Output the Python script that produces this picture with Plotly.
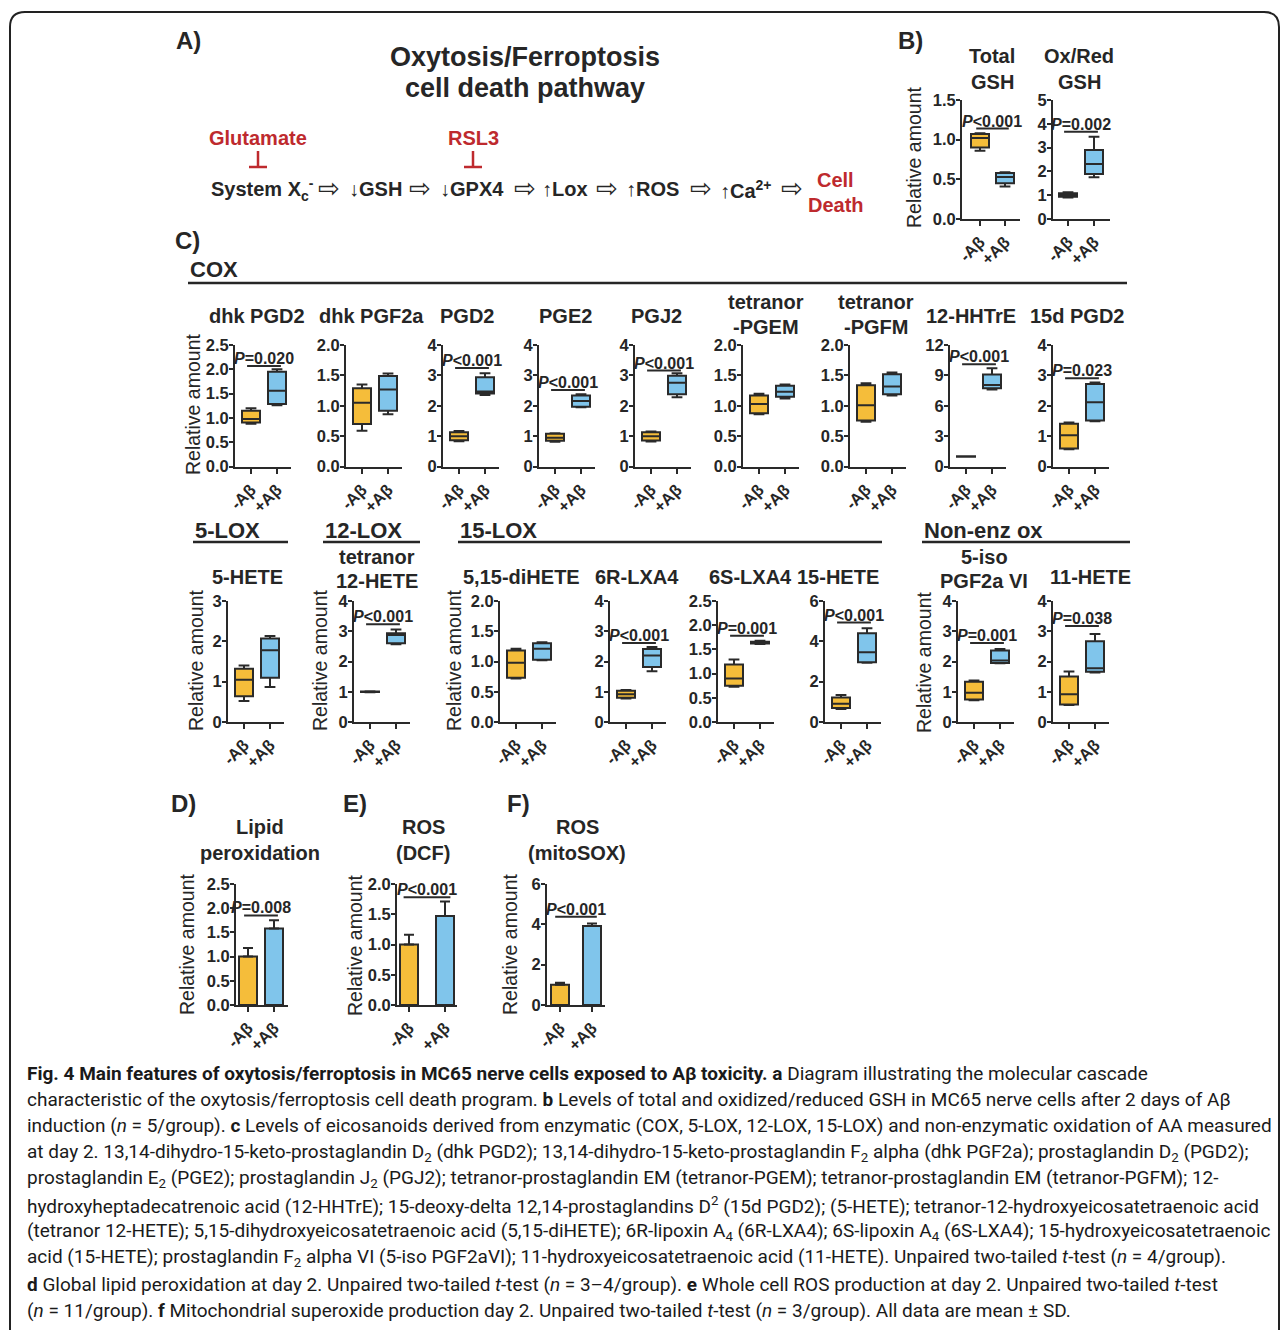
import plotly.graph_objects as go

# ---------------- data ----------------
groups = ["-Aβ", "+Aβ"]

# B) glutathione (box stats: min, q1, median, q3, max)
gsh_titles = [["Total", "GSH"], ["Ox/Red", "GSH"]]
gsh_ymax = [1.5, 5]
gsh_dtick = [0.5, 1]
gsh_minus = [[0.86, 0.90, 1.02, 1.07, 1.08], [0.90, 0.93, 1.00, 1.08, 1.12]]
gsh_plus = [[0.41, 0.45, 0.53, 0.58, 0.59], [1.75, 1.89, 2.31, 2.90, 3.46]]
gsh_p = ["<0.001", "=0.002"]
gsh_pline = [1.14, 3.67]

# C) COX products
cox_titles = [["dhk PGD2"], ["dhk PGF2a"], ["PGD2"], ["PGE2"], ["PGJ2"],
              ["tetranor", "-PGEM"], ["tetranor", "-PGFM"], ["12-HHTrE"], ["15d PGD2"]]
cox_ymax = [2.5, 2.0, 4, 4, 4, 2.0, 2.0, 12, 4]
cox_dtick = [0.5, 0.5, 1, 1, 1, 0.5, 0.5, 3, 1]
cox_minus = [
    [0.88, 0.91, 0.98, 1.15, 1.20],
    [0.59, 0.70, 1.05, 1.29, 1.35],
    [0.84, 0.87, 1.00, 1.13, 1.17],
    [0.82, 0.85, 0.95, 1.08, 1.10],
    [0.83, 0.86, 1.00, 1.13, 1.16],
    [0.86, 0.88, 1.03, 1.17, 1.20],
    [0.74, 0.76, 1.01, 1.34, 1.37],
    [0.97, 0.98, 1.00, 1.02, 1.03],
    [0.57, 0.60, 1.03, 1.41, 1.45],
]
cox_plus = [
    [1.26, 1.29, 1.56, 1.95, 2.00],
    [0.86, 0.92, 1.27, 1.49, 1.53],
    [2.36, 2.41, 2.47, 2.94, 3.07],
    [1.95, 1.97, 2.16, 2.34, 2.38],
    [2.28, 2.38, 2.76, 2.99, 3.07],
    [1.12, 1.15, 1.23, 1.33, 1.35],
    [1.17, 1.19, 1.32, 1.52, 1.55],
    [7.60, 7.73, 8.06, 9.10, 9.70],
    [1.49, 1.52, 2.12, 2.72, 2.77],
]
cox_p = ["=0.020", None, "<0.001", "<0.001", "<0.001", None, None, "<0.001", "=0.023"]
cox_pline = [2.07, None, 3.24, 2.52, 3.16, None, None, 10.1, 2.91]

# C) LOX and non-enzymatic products
lox_titles = [["5-HETE"], ["tetranor", "12-HETE"], ["5,15-diHETE"], ["6R-LXA4"],
              ["6S-LXA4"], ["15-HETE"], ["5-iso", "PGF2a VI"], ["11-HETE"]]
lox_ymax = [3, 4, 2.0, 4, 2.5, 6, 4, 4]
lox_dtick = [1, 1, 0.5, 1, 0.5, 2, 1, 1]
lox_minus = [
    [0.52, 0.64, 1.05, 1.32, 1.40],
    [0.98, 0.99, 1.00, 1.01, 1.02],
    [0.72, 0.73, 0.98, 1.18, 1.21],
    [0.78, 0.80, 0.92, 1.03, 1.06],
    [0.73, 0.75, 0.90, 1.19, 1.29],
    [0.65, 0.69, 0.90, 1.22, 1.34],
    [0.72, 0.74, 0.97, 1.33, 1.37],
    [0.56, 0.58, 0.92, 1.50, 1.67],
]
lox_plus = [
    [0.87, 1.10, 1.78, 2.07, 2.13],
    [2.57, 2.60, 2.88, 2.93, 3.06],
    [1.02, 1.03, 1.21, 1.30, 1.32],
    [1.68, 1.82, 2.20, 2.41, 2.48],
    [1.61, 1.62, 1.64, 1.66, 1.68],
    [2.94, 2.96, 3.46, 4.40, 4.65],
    [1.94, 1.95, 2.03, 2.36, 2.41],
    [1.64, 1.66, 1.78, 2.67, 2.91],
]
lox_p = [None, "<0.001", None, "<0.001", "=0.001", "<0.001", "=0.001", "=0.038"]
lox_pline = [None, 3.23, None, 2.61, 1.78, 4.93, 2.61, 3.17]

# D-F) oxidative stress read-outs (mean, SD)
ox_titles = [["Lipid", "peroxidation"], ["ROS", "(DCF)"], ["ROS", "(mitoSOX)"]]
ox_ymax = [2.5, 2.0, 6]
ox_dtick = [0.5, 0.5, 2]
ox_mean_minus = [1.00, 1.00, 1.00]
ox_sd_minus = [0.18, 0.16, 0.10]
ox_mean_plus = [1.58, 1.47, 3.92]
ox_sd_plus = [0.17, 0.24, 0.12]
ox_p = ["=0.008", "<0.001", "<0.001"]
ox_pline = [1.85, 1.78, 4.38]

caption_lines = [
    "<b>Fig. 4 Main features of oxytosis/ferroptosis in MC65 nerve cells exposed to Aβ toxicity. a</b> Diagram illustrating the molecular cascade",
    "characteristic of the oxytosis/ferroptosis cell death program. <b>b</b> Levels of total and oxidized/reduced GSH in MC65 nerve cells after 2 days of Aβ",
    "induction (<i>n</i> = 5/group). <b>c</b> Levels of eicosanoids derived from enzymatic (COX, 5-LOX, 12-LOX, 15-LOX) and non-enzymatic oxidation of AA measured",
    "at day 2. 13,14-dihydro-15-keto-prostaglandin D<sub>2</sub> (dhk PGD2); 13,14-dihydro-15-keto-prostaglandin F<sub>2</sub> alpha (dhk PGF2a); prostaglandin D<sub>2</sub> (PGD2);",
    "prostaglandin E<sub>2</sub> (PGE2); prostaglandin J<sub>2</sub> (PGJ2); tetranor-prostaglandin EM (tetranor-PGEM); tetranor-prostaglandin EM (tetranor-PGFM); 12-",
    "hydroxyheptadecatrenoic acid (12-HHTrE); 15-deoxy-delta 12,14-prostaglandins D<sup>2</sup> (15d PGD2); (5-HETE); tetranor-12-hydroxyeicosatetraenoic acid",
    "(tetranor 12-HETE); 5,15-dihydroxyeicosatetraenoic acid (5,15-diHETE); 6R-lipoxin A<sub>4</sub> (6R-LXA4); 6S-lipoxin A<sub>4</sub> (6S-LXA4); 15-hydroxyeicosatetraenoic",
    "acid (15-HETE); prostaglandin F<sub>2</sub> alpha VI (5-iso PGF2aVI); 11-hydroxyeicosatetraenoic acid (11-HETE). Unpaired two-tailed <i>t</i>-test (<i>n</i> = 4/group).",
    "<b>d</b> Global lipid peroxidation at day 2. Unpaired two-tailed <i>t</i>-test (<i>n</i> = 3–4/group). <b>e</b> Whole cell ROS production at day 2. Unpaired two-tailed <i>t</i>-test",
    "(<i>n</i> = 11/group). <b>f</b> Mitochondrial superoxide production day 2. Unpaired two-tailed <i>t</i>-test (<i>n</i> = 3/group). All data are mean ± SD.",
]

# ---------------- layout geometry (pixels) ----------------
W, H = 1281, 1330
FONT = "Liberation Sans, Arial, Helvetica, sans-serif"
CAP_FONT = "Roboto, Liberation Sans, sans-serif"
YELLOW = "#F5BD3A"
BLUE = "#80C5EB"
EDGE = "#2a2a2a"
INK = "#262626"
RED = "#BE2A2E"

# (y-axis x, first category offset, second category offset, axis end offset)
gsh_geo = [(962, 18, 43, 58), (1053, 15, 41, 57)]
gsh_rows = (100, 219)
gsh_title_x = [992, 1079]
cox_x0 = [235, 346, 443, 539, 635, 743, 850, 950, 1053]
cox_rows = (345, 466.7)
cox_title_x = [257, 371, 467, 565, 656, 766, 876, 971, 1077]
lox_x0 = [228, 354, 500, 610, 718, 825, 958, 1053]
lox_rows = (601, 722)
lox_title_x = [247, 377, 521, 637, 750, 838, 984, 1090]
ox_geo = [(236, 12, 38, 52), (397, 12, 48, 60), (547, 13, 45, 58)]
ox_rows = (884, 1005)
ox_title_x = [260, 423, 577]
MARK_W = 18  # box / bar width in px


def px(x):
    return x / W


def py(y):
    return 1 - y / H


fig = go.Figure()
axes = {}
annotations = []
shapes = []
TICKFONT = dict(family=FONT, size=16.5, color=INK, weight="bold")


def text(x, y, s, size=20, bold=True, color=INK, xanchor="center", family=FONT, angle=0, yanchor="middle"):
    annotations.append(dict(
        x=px(x), y=py(y), xref="paper", yref="paper", text=s, showarrow=False,
        xanchor=xanchor, yanchor=yanchor, textangle=angle,
        font=dict(family=family, size=size, color=color, weight="bold" if bold else "normal")))


def hline(x0, x1, y, color=INK, width=2):
    shapes.append(dict(type="line", xref="paper", yref="paper",
                       x0=px(x0), x1=px(x1), y0=py(y), y1=py(y),
                       line=dict(color=color, width=width)))


def make_axes(geo, rows, ymax, dtick):
    n = len(axes) // 2 + 1
    sfx = "" if n == 1 else str(n)
    x0, a, b, e = geo
    top, zero = rows
    unit = b - a
    xr = [-a / unit, (e - a) / unit]
    nt = int(round(ymax / dtick))
    vals = [i * dtick for i in range(nt + 1)]
    labels = [("{:.1f}" if dtick < 1 else "{:.0f}").format(v) for v in vals]
    axes["xaxis" + sfx] = dict(
        domain=[px(x0), px(x0 + e)], range=xr, anchor="y" + sfx,
        showline=True, linecolor=EDGE, linewidth=2, ticks="outside", ticklen=5,
        tickwidth=2, tickcolor=EDGE, tickmode="array", tickvals=[0, 1],
        ticktext=groups, tickangle=-45, tickfont=TICKFONT, showgrid=False,
        zeroline=False, fixedrange=True)
    axes["yaxis" + sfx] = dict(
        domain=[py(zero), py(top)], range=[0, ymax], anchor="x" + sfx,
        showline=True, linecolor=EDGE, linewidth=2, ticks="outside", ticklen=4,
        tickwidth=2, tickcolor=EDGE, tickmode="array", tickvals=vals,
        ticktext=labels, tickfont=TICKFONT, ticklabelstandoff=-3,
        showgrid=False, zeroline=False, fixedrange=True)
    return "x" + sfx, "y" + sfx, MARK_W / unit


def add_box(xa, ya, pos, stats, color, width):
    mn, q1, med, q3, mx = stats
    fig.add_trace(go.Box(
        x=[pos], lowerfence=[mn], q1=[q1], median=[med], q3=[q3], upperfence=[mx],
        xaxis=xa, yaxis=ya, fillcolor=color, line=dict(color=EDGE, width=2),
        width=width, whiskerwidth=0.6, boxpoints=False, showlegend=False,
        hoverinfo="skip"))


def add_p(xa, ya, p, level):
    if p is None:
        return
    fig.add_trace(go.Scatter(
        x=[-0.15, 1.15], y=[level, level], xaxis=xa, yaxis=ya, mode="lines",
        line=dict(color=EDGE, width=2), showlegend=False, hoverinfo="skip"))
    annotations.append(dict(
        x=0.5, y=level, xref=xa, yref=ya, text="<i>P</i>" + p, showarrow=False,
        xanchor="center", yanchor="bottom", yshift=-2, borderpad=0,
        font=dict(family=FONT, size=16, color=INK, weight="bold")))


def add_title(x, y_center, lines, spacing=25):
    y0 = y_center - spacing * (len(lines) - 1) / 2
    for i, s in enumerate(lines):
        text(x, y0 + i * spacing, s, size=20)


def box_panel(geo, rows, ymax, dtick, minus, plus, p, pline):
    xa, ya, w = make_axes(geo, rows, ymax, dtick)
    add_box(xa, ya, 0, minus, YELLOW, w)
    add_box(xa, ya, 1, plus, BLUE, w)
    add_p(xa, ya, p, pline)


# ---- B) GSH
for i in range(2):
    box_panel(gsh_geo[i], gsh_rows, gsh_ymax[i], gsh_dtick[i],
              gsh_minus[i], gsh_plus[i], gsh_p[i], gsh_pline[i])
    add_title(gsh_title_x[i], 69, gsh_titles[i])

# ---- C) COX row
for i in range(len(cox_titles)):
    box_panel((cox_x0[i], 16, 42, 56), cox_rows, cox_ymax[i], cox_dtick[i],
              cox_minus[i], cox_plus[i], cox_p[i], cox_pline[i])
    add_title(cox_title_x[i], 314 if len(cox_titles[i]) > 1 else 316, cox_titles[i])

# ---- C) LOX / non-enzymatic row
for i in range(len(lox_titles)):
    box_panel((lox_x0[i], 16, 42, 56), lox_rows, lox_ymax[i], lox_dtick[i],
              lox_minus[i], lox_plus[i], lox_p[i], lox_pline[i])
    if len(lox_titles[i]) > 1:
        add_title(lox_title_x[i], 569, lox_titles[i], spacing=24)
    else:
        add_title(lox_title_x[i], 577, lox_titles[i])

# ---- D-F) bar panels
for i in range(3):
    xa, ya, w = make_axes(ox_geo[i], ox_rows, ox_ymax[i], ox_dtick[i])
    fig.add_trace(go.Bar(
        x=[0, 1], y=[ox_mean_minus[i], ox_mean_plus[i]], xaxis=xa, yaxis=ya,
        width=w, marker=dict(color=[YELLOW, BLUE], line=dict(color=EDGE, width=2)),
        error_y=dict(type="data", symmetric=False,
                     array=[ox_sd_minus[i], ox_sd_plus[i]], arrayminus=[0, 0],
                     color=EDGE, thickness=2, width=5),
        showlegend=False, hoverinfo="skip"))
    add_p(xa, ya, ox_p[i], ox_pline[i])
    add_title(ox_title_x[i], 840, ox_titles[i])

# ---- y-axis titles
for (x, y) in [(914, 158), (193, 405), (196, 661), (320, 661), (454, 661),
               (924, 663), (187, 945), (355, 945), (510, 945)]:
    text(x, y, "Relative amount", size=19.5, bold=False, angle=-90)

# ---- panel letters
for (x, y, s) in [(188, 40, "A)"), (910, 40, "B)"), (187, 240, "C)"),
                  (183, 803, "D)"), (355, 803, "E)"), (518, 803, "F)")]:
    text(x, y, s, size=24)

# ---- section headings in C
for (x0, x1, s, y) in [(188, 1127, "COX", 270), (193, 288, "5-LOX", 530),
                       (323, 420, "12-LOX", 530), (458, 882, "15-LOX", 530),
                       (922, 1130, "Non-enz ox", 530)]:
    text(x0, y, s, size=22, xanchor="left")
    hline(x0, x1, y + 13 if s == "COX" else y + 12, width=2.5)

# ---- A) pathway diagram
text(525, 57, "Oxytosis/Ferroptosis", size=27)
text(525, 88, "cell death pathway", size=27)
text(258, 138, "Glutamate", size=20, color=RED)
text(473, 138, "RSL3", size=20, color=RED)
for cx in [258, 473]:
    shapes.append(dict(type="line", xref="paper", yref="paper", x0=px(cx), x1=px(cx),
                       y0=py(151), y1=py(167), line=dict(color=RED, width=2.5)))
    hline(cx - 9, cx + 9, 167, color=RED, width=2.5)
text(209, 189, "System X<sub>c</sub><sup>-</sup>", size=20, xanchor="left")
for cx, s in [(375, "↓GSH"), (472, "↓GPX4"), (565, "↑Lox"), (652, "↑ROS"),
              (746, "↑Ca<sup>2+</sup>")]:
    text(cx, 189, s, size=20)
for cx in [329, 420, 525, 607, 701, 792]:
    text(cx, 188, "⇨", size=26, bold=False, family="DejaVu Sans, sans-serif")
text(836, 180, "Cell", size=20, color=RED)
text(836, 205, "Death", size=20, color=RED)

# ---- caption
for i, line in enumerate(caption_lines):
    text(25, 1073 + i * 26.4, line, size=19, bold=False, xanchor="left",
         family=CAP_FONT, color="#1a1a1a")

# ---- rounded frame
r = 15
frame = (f"M {px(10)},{py(1345)} L {px(10)},{py(12 + r)} "
         f"Q {px(10)},{py(12)} {px(10 + r)},{py(12)} "
         f"L {px(1279 - r)},{py(12)} Q {px(1279)},{py(12)} {px(1279)},{py(12 + r)} "
         f"L {px(1279)},{py(1345)}")
shapes.append(dict(type="path", xref="paper", yref="paper", path=frame,
                   line=dict(color="#222222", width=2)))

fig.update_layout(
    width=W, height=H, autosize=False, template="none",
    margin=dict(l=0, r=0, t=0, b=0), paper_bgcolor="white", plot_bgcolor="rgba(0,0,0,0)",
    boxmode="overlay", barmode="overlay", showlegend=False,
    annotations=annotations, shapes=shapes, **axes)

fig.write_html("out.html")
